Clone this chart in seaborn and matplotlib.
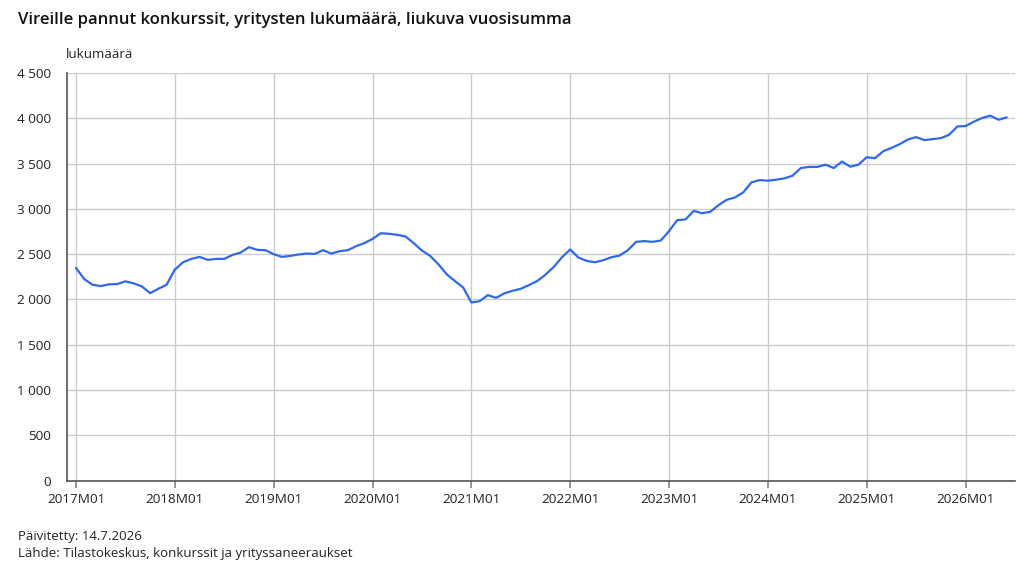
import numpy as np
import pandas as pd
import matplotlib
matplotlib.use("Agg")
import matplotlib.pyplot as plt
import seaborn as sns

# Monthly rolling yearly sum of bankruptcy filings, 2017M01 .. 2026M06
values_2017 = [2348, 2226, 2163, 2148, 2167, 2170, 2200, 2178, 2144, 2070, 2118, 2163]
values_2018 = [2329, 2411, 2448, 2470, 2437, 2448, 2448, 2492, 2518, 2577, 2548, 2544]
values_2019 = [2500, 2470, 2481, 2496, 2507, 2503, 2544, 2507, 2533, 2544, 2588, 2622]
values_2020 = [2668, 2731, 2725, 2714, 2696, 2622, 2540, 2481, 2389, 2278, 2204, 2133]
values_2021 = [1967, 1981, 2048, 2018, 2067, 2096, 2118, 2159, 2204, 2274, 2359, 2466]
values_2022 = [2551, 2463, 2426, 2411, 2433, 2466, 2485, 2544, 2636, 2644, 2636, 2651]
values_2023 = [2755, 2876, 2883, 2978, 2952, 2967, 3041, 3100, 3126, 3181, 3292, 3318]
values_2024 = [3311, 3322, 3337, 3366, 3451, 3463, 3463, 3488, 3451, 3522, 3466, 3488]
values_2025 = [3570, 3559, 3636, 3673, 3714, 3766, 3792, 3759, 3770, 3781, 3818, 3910]
values_2026 = [3914, 3962, 4003, 4029, 3984, 4010]

years = list(range(2017, 2027))
y_ticks = [0, 500, 1000, 1500, 2000, 2500, 3000, 3500, 4000, 4500]

title = "Vireille pannut konkurssit, yritysten lukumäärä, liukuva vuosisumma"
y_label = "lukumäärä"
updated = "Päivitetty: 14.7.2026"
source = "Lähde: Tilastokeskus, konkurssit ja yrityssaneeraukset"

series = (values_2017 + values_2018 + values_2019 + values_2020 + values_2021
          + values_2022 + values_2023 + values_2024 + values_2025 + values_2026)
df = pd.DataFrame({"month": np.arange(len(series)), "count": series})

sns.set_theme(style="white")
plt.rcParams["font.family"] = ["Open Sans", "DejaVu Sans"]

fig = plt.figure(figsize=(10.24, 5.76), dpi=100)
ax = fig.add_axes([0.0651, 0.1655, 0.9261, 0.7078])

sns.lineplot(data=df, x="month", y="count", ax=ax, color="#2f69ea", linewidth=1.6)

year_pos = [(y - 2017) * 12 for y in years]
ax.set_xticks(year_pos)
ax.set_xticklabels([f"{y}M01" for y in years], fontsize=9.7, color="#222222")
ax.set_yticks(y_ticks)
ax.set_yticklabels([f"{v:,}".replace(",", " ") for v in y_ticks], fontsize=9.7, color="#222222")
ax.set_xlim(-1.13, 114)
ax.set_ylim(0, 4500)
ax.set_xlabel("")
ax.set_ylabel("")

ax.grid(True, color="#cccccc", linewidth=1.0)
ax.set_axisbelow(True)
for side in ["top", "right"]:
    ax.spines[side].set_visible(False)
for side in ["left", "bottom"]:
    ax.spines[side].set_color("#555555")
    ax.spines[side].set_linewidth(1.2)
ax.tick_params(axis="x", bottom=True, length=5, color="#888888", pad=4)
ax.tick_params(axis="y", left=False, length=0, pad=11)

fig.text(0.0176, 0.965, title, fontsize=12, fontweight="semibold", color="#111111", va="center")
fig.text(0.0645, 0.905, y_label, fontsize=9.7, color="#222222", va="center")
fig.text(0.0176, 0.069, updated, fontsize=9.5, color="#222222", va="center")
fig.text(0.0176, 0.039, source, fontsize=9.5, color="#222222", va="center")

fig.savefig("out.png", dpi=100)
